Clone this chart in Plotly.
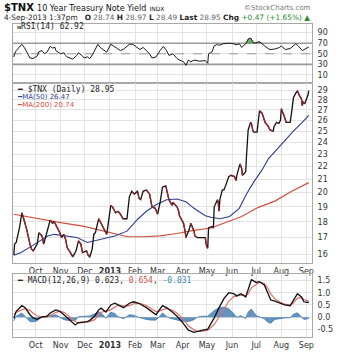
import math
import plotly.graph_objects as go

# ---- $TNX daily closes (yield x10) ----
price_dates = [
    "2012-09-04", "2012-09-05", "2012-09-07", "2012-09-11", "2012-09-14", "2012-09-17",
    "2012-09-20", "2012-09-24", "2012-09-26", "2012-09-28", "2012-10-03", "2012-10-05",
    "2012-10-09", "2012-10-11", "2012-10-16", "2012-10-19", "2012-10-22", "2012-10-24",
    "2012-10-26", "2012-10-31", "2012-11-02", "2012-11-05", "2012-11-07", "2012-11-09",
    "2012-11-13", "2012-11-16", "2012-11-20", "2012-11-23", "2012-11-26", "2012-11-28",
    "2012-12-03", "2012-12-05", "2012-12-07", "2012-12-10", "2012-12-12", "2012-12-14",
    "2012-12-18", "2012-12-21", "2012-12-24", "2012-12-27", "2012-12-28", "2013-01-02",
    "2013-01-04", "2013-01-08", "2013-01-11", "2013-01-14", "2013-01-17", "2013-01-22",
    "2013-01-25", "2013-01-28", "2013-01-31", "2013-02-04", "2013-02-06", "2013-02-08",
    "2013-02-11", "2013-02-15", "2013-02-19", "2013-02-20", "2013-02-22", "2013-02-26",
    "2013-03-01", "2013-03-04", "2013-03-07", "2013-03-11", "2013-03-13", "2013-03-15",
    "2013-03-19", "2013-03-20", "2013-03-25", "2013-03-27", "2013-03-28", "2013-04-02",
    "2013-04-04", "2013-04-05", "2013-04-09", "2013-04-11", "2013-04-15", "2013-04-16",
    "2013-04-19", "2013-04-22", "2013-04-25", "2013-04-29", "2013-04-30", "2013-05-01",
    "2013-05-02", "2013-05-03", "2013-05-07", "2013-05-09", "2013-05-10", "2013-05-14",
    "2013-05-15", "2013-05-16", "2013-05-17", "2013-05-20", "2013-05-22", "2013-05-24",
    "2013-05-28", "2013-05-31", "2013-06-04", "2013-06-06", "2013-06-07", "2013-06-10",
    "2013-06-11", "2013-06-13", "2013-06-14", "2013-06-17", "2013-06-18", "2013-06-19",
    "2013-06-20", "2013-06-21", "2013-06-24", "2013-06-25", "2013-06-27", "2013-06-28",
    "2013-07-02", "2013-07-05", "2013-07-08", "2013-07-10", "2013-07-12", "2013-07-16",
    "2013-07-18", "2013-07-22", "2013-07-23", "2013-07-26", "2013-07-29", "2013-07-31",
    "2013-08-01", "2013-08-05", "2013-08-07", "2013-08-09", "2013-08-12", "2013-08-14",
    "2013-08-16", "2013-08-19", "2013-08-21", "2013-08-23", "2013-08-26", "2013-08-27",
    "2013-08-28", "2013-08-30", "2013-09-03", "2013-09-04",
]
price_vals = [
    15.95, 16.6, 16.7, 17.6, 18.6, 18.1,
    17.5, 16.6, 16.3, 16.2, 16.6, 17.3,
    17.1, 16.6, 17.5, 18.1, 17.9, 18.0,
    17.8, 17.3, 17.0, 17.2, 16.9, 16.4,
    16.1, 15.85, 16.2, 16.8, 16.6, 16.1,
    16.2, 15.95, 15.85, 16.3, 17.2, 17.3,
    18.2, 17.9, 17.6, 17.3, 17.2, 19.1,
    19.0, 18.6, 18.7, 18.5, 18.2, 18.2,
    19.7, 20.1, 19.9, 20.1, 19.6, 19.5,
    20.1, 20.2, 19.9, 19.6, 19.0, 18.9,
    18.5, 19.3, 20.4, 20.5, 20.0, 19.5,
    19.1, 19.3, 19.0, 18.7, 18.4, 17.9,
    17.4, 17.0, 17.5, 17.9, 17.4, 17.1,
    17.0, 17.0, 17.0, 17.0, 16.6, 16.4,
    16.35, 17.6, 17.7, 17.6, 19.0, 19.5,
    19.3, 18.7, 19.5, 20.2, 20.2, 20.5,
    21.2, 21.3, 21.2, 20.9, 21.3, 22.0,
    22.2, 21.8, 21.3, 21.5, 21.6, 22.9,
    24.2, 25.1, 25.8, 25.7, 25.0, 24.9,
    24.9, 26.9, 26.7, 26.3, 25.8, 25.4,
    25.1, 25.0, 25.4, 25.8, 25.7, 26.0,
    27.1, 26.3, 25.8, 25.8, 25.8, 26.9,
    28.2, 28.7, 28.9, 28.5, 28.1, 27.4,
    27.8, 27.6, 28.48, 28.95,
]

# ---- moving averages ----
ma50_dates = [
    "2012-09-04", "2012-09-13", "2012-09-25", "2012-10-08", "2012-10-16", "2012-10-24",
    "2012-11-06", "2012-11-21", "2012-12-04", "2012-12-12", "2012-12-24", "2013-01-07",
    "2013-01-22", "2013-02-04", "2013-02-15", "2013-02-27", "2013-03-12", "2013-03-25",
    "2013-04-05", "2013-04-15", "2013-04-29", "2013-05-06", "2013-05-17", "2013-05-29",
    "2013-06-10", "2013-06-19", "2013-06-28", "2013-07-08", "2013-07-16", "2013-07-24",
    "2013-08-01", "2013-08-09", "2013-08-16", "2013-08-27", "2013-09-04",
]
ma50_vals = [
    15.95, 16.1, 16.45, 16.85, 17.1, 17.2,
    17.1, 17.0, 16.7, 16.8, 16.95, 17.1,
    17.4, 18.15, 18.7, 19.15, 19.5, 19.55,
    19.35, 18.9, 18.4, 18.3, 18.2, 18.35,
    18.9, 19.9, 20.8, 21.7, 22.6, 23.2,
    23.8, 24.4, 25.0, 25.8, 26.47,
]
ma200_dates = [
    "2012-09-04", "2012-09-28", "2012-11-01", "2012-11-30", "2012-12-20", "2013-01-07",
    "2013-01-23", "2013-02-12", "2013-03-04", "2013-03-25", "2013-04-15", "2013-05-06",
    "2013-05-24", "2013-06-13", "2013-07-03", "2013-07-24", "2013-08-14", "2013-09-04",
]
ma200_vals = [
    18.5, 18.25, 17.95, 17.7, 17.45, 17.2,
    17.05, 17.05, 17.1, 17.25, 17.45, 17.6,
    17.95, 18.35, 18.95, 19.4, 20.1, 20.74,
]

# ---- RSI(14) ----
rsi_dates = [
    "2012-09-04", "2012-09-05", "2012-09-07", "2012-09-14", "2012-09-17", "2012-09-20",
    "2012-09-24", "2012-09-28", "2012-10-03", "2012-10-05", "2012-10-09", "2012-10-12",
    "2012-10-15", "2012-10-19", "2012-10-22", "2012-10-25", "2012-10-26", "2012-11-01",
    "2012-11-05", "2012-11-07", "2012-11-09", "2012-11-14", "2012-11-16", "2012-11-21",
    "2012-11-23", "2012-11-27", "2012-11-30", "2012-12-04", "2012-12-07", "2012-12-11",
    "2012-12-14", "2012-12-17", "2012-12-20", "2012-12-24", "2012-12-28", "2013-01-02",
    "2013-01-07", "2013-01-10", "2013-01-14", "2013-01-18", "2013-01-25", "2013-01-29",
    "2013-02-01", "2013-02-04", "2013-02-07", "2013-02-11", "2013-02-15", "2013-02-19",
    "2013-02-22", "2013-02-27", "2013-03-04", "2013-03-08", "2013-03-12", "2013-03-15",
    "2013-03-20", "2013-03-25", "2013-03-28", "2013-04-02", "2013-04-05", "2013-04-08",
    "2013-04-11", "2013-04-15", "2013-04-22", "2013-04-29", "2013-05-02", "2013-05-03",
    "2013-05-07", "2013-05-10", "2013-05-14", "2013-05-16", "2013-05-21", "2013-05-28",
    "2013-06-03", "2013-06-06", "2013-06-10", "2013-06-13", "2013-06-18", "2013-06-21",
    "2013-06-24", "2013-06-28", "2013-07-05", "2013-07-09", "2013-07-12", "2013-07-18",
    "2013-07-24", "2013-07-30", "2013-08-01", "2013-08-06", "2013-08-12", "2013-08-19",
    "2013-08-22", "2013-08-27", "2013-08-30", "2013-09-04",
]
rsi_vals = [
    44, 50, 56, 68, 62, 53,
    42, 41, 46, 54, 56, 50,
    53, 64, 61, 62, 56, 50,
    52, 47, 44, 41, 40, 47,
    52, 47, 42, 44, 41, 50,
    59, 68, 62, 58, 53, 68,
    62, 60, 56, 59, 68, 68,
    65, 62, 58, 62, 56, 50,
    42, 44, 56, 64, 56, 47,
    50, 41, 38, 35, 28, 38,
    35, 38, 36, 37, 32, 50,
    53, 65, 68, 66, 69, 70,
    69, 67, 69, 62, 69, 78,
    80, 70, 73, 67, 64, 58,
    59, 62, 65, 58, 60, 69,
    65, 56, 59, 62.92,
]

# ---- MACD(12,26,9) ----
macd_dates = [
    "2012-09-04", "2012-09-07", "2012-09-14", "2012-09-18", "2012-09-24", "2012-09-28",
    "2012-10-03", "2012-10-08", "2012-10-15", "2012-10-19", "2012-10-26", "2012-10-31",
    "2012-11-05", "2012-11-09", "2012-11-14", "2012-11-19", "2012-11-23", "2012-11-28",
    "2012-12-04", "2012-12-07", "2012-12-13", "2012-12-18", "2012-12-21", "2012-12-27",
    "2013-01-02", "2013-01-07", "2013-01-11", "2013-01-18", "2013-01-25", "2013-01-30",
    "2013-02-05", "2013-02-08", "2013-02-15", "2013-02-21", "2013-02-27", "2013-03-07",
    "2013-03-12", "2013-03-18", "2013-03-25", "2013-04-01", "2013-04-08", "2013-04-15",
    "2013-04-19", "2013-04-26", "2013-05-02", "2013-05-10", "2013-05-16", "2013-05-22",
    "2013-05-28", "2013-06-03", "2013-06-07", "2013-06-12", "2013-06-18", "2013-06-21",
    "2013-06-25", "2013-07-01", "2013-07-05", "2013-07-11", "2013-07-15", "2013-07-19",
    "2013-07-24", "2013-07-30", "2013-08-05", "2013-08-12", "2013-08-16", "2013-08-21",
    "2013-08-26", "2013-08-29", "2013-09-03", "2013-09-04",
]
macd_vals = [
    -0.03, 0.24, 0.47, 0.39, 0.10, -0.03,
    -0.09, 0.00, 0.04, 0.17, 0.30, 0.24,
    0.10, -0.03, -0.18, -0.32, -0.22, -0.20,
    -0.18, -0.13, 0.04, 0.30, 0.37, 0.21,
    0.50, 0.57, 0.50, 0.39, 0.57, 0.63,
    0.57, 0.53, 0.39, 0.24, 0.10, 0.47,
    0.39, 0.24, 0.04, -0.22, -0.53, -0.62,
    -0.58, -0.53, -0.49, -0.03, 0.39, 0.76,
    1.00, 0.96, 0.87, 0.96, 0.83, 1.16,
    1.53, 1.42, 1.45, 1.32, 1.00, 0.70,
    0.66, 0.57, 0.50, 0.47, 0.70, 0.96,
    0.83, 0.63, 0.60, 0.623,
]
signal_vals = [
    0.12, 0.20, 0.30, 0.35, 0.28, 0.16,
    0.06, 0.00, 0.00, 0.08, 0.20, 0.24,
    0.20, 0.10, -0.05, -0.18, -0.24, -0.22,
    -0.20, -0.18, -0.10, 0.08, 0.20, 0.25,
    0.30, 0.42, 0.48, 0.45, 0.47, 0.55,
    0.57, 0.56, 0.48, 0.36, 0.22, 0.30,
    0.36, 0.30, 0.16, -0.05, -0.35, -0.52,
    -0.58, -0.57, -0.53, -0.30, 0.00, 0.35,
    0.65, 0.84, 0.87, 0.90, 0.88, 0.95,
    1.20, 1.36, 1.43, 1.38, 1.20, 0.95,
    0.75, 0.62, 0.53, 0.49, 0.58, 0.78,
    0.80, 0.72, 0.66, 0.654,
]

month_ticks = ["2012-10-01", "2012-11-01", "2012-12-01", "2013-01-01", "2013-02-01",
               "2013-03-01", "2013-04-01", "2013-05-01", "2013-06-01", "2013-07-01",
               "2013-08-01", "2013-09-01"]
month_labels = ["Oct", "Nov", "Dec", "<b>2013</b>", "Feb", "Mar", "Apr", "May",
                "Jun", "Jul", "Aug", "Sep"]
price_ticks = [16, 17, 18, 19, 20, 21, 22, 23, 24, 25, 26, 27, 28, 29]
rsi_ticks = [10, 30, 50, 70, 90]
macd_ticks = [-0.5, 0.0, 0.5, 1.0, 1.5]
macd_tick_text = ["-0.5", "0.0", "0.5", "1.0", "1.5"]

X_RANGE = ["2012-09-03", "2013-09-08"]
GRID = "#e3e3e3"
FRAME = "#a8a8a8"
TICK_FONT = dict(family="DejaVu Sans", size=8, color="#333333")
UP_COLOR = "#111111"
DOWN_COLOR = "#a3262e"
MA50_COLOR = "#2e3d8f"
MA200_COLOR = "#d0503c"

fig = go.Figure()

# RSI panel: gray reference lines at 70/30, dashed 50, green fill above 70
for level, dash, width in [(70, "solid", 1.6), (30, "solid", 1.6), (50, "dash", 1)]:
    fig.add_trace(go.Scatter(x=X_RANGE, y=[level, level], mode="lines",
                             line=dict(color="#9a9a9a", width=width, dash=dash),
                             xaxis="x", yaxis="y", hoverinfo="skip"))
fig.add_trace(go.Scatter(x=rsi_dates, y=[70] * len(rsi_dates), mode="lines",
                         line=dict(width=0), xaxis="x", yaxis="y", hoverinfo="skip"))
fig.add_trace(go.Scatter(x=rsi_dates, y=[max(v, 70) for v in rsi_vals], mode="lines",
                         line=dict(width=0), fill="tonexty", fillcolor="rgba(60,150,60,0.75)",
                         xaxis="x", yaxis="y", hoverinfo="skip"))
fig.add_trace(go.Scatter(x=rsi_dates, y=rsi_vals, mode="lines",
                         line=dict(color="#1a1a1a", width=1), xaxis="x", yaxis="y"))

# Price panel
fig.add_trace(go.Scatter(x=ma200_dates, y=ma200_vals, mode="lines",
                         line=dict(color=MA200_COLOR, width=1.2), xaxis="x2", yaxis="y2"))
fig.add_trace(go.Scatter(x=ma50_dates, y=ma50_vals, mode="lines",
                         line=dict(color=MA50_COLOR, width=1.1), xaxis="x2", yaxis="y2"))
fig.add_trace(go.Scatter(x=price_dates, y=price_vals, mode="lines",
                         line=dict(color=UP_COLOR, width=1.3), xaxis="x2", yaxis="y2"))
down_x, down_y = [], []
for i in range(1, len(price_vals)):
    if price_vals[i] < price_vals[i - 1]:
        down_x += [price_dates[i - 1], price_dates[i], None]
        down_y += [price_vals[i - 1], price_vals[i], None]
fig.add_trace(go.Scatter(x=down_x, y=down_y, mode="lines", connectgaps=False,
                         line=dict(color=DOWN_COLOR, width=1.3), xaxis="x2", yaxis="y2"))

# MACD panel
hist_vals = [m - s for m, s in zip(macd_vals, signal_vals)]
fig.add_trace(go.Scatter(x=macd_dates, y=hist_vals, mode="lines", fill="tozeroy",
                         line=dict(color="#3f78b0", width=0.8),
                         fillcolor="rgba(63,120,176,0.8)", xaxis="x3", yaxis="y3"))
fig.add_trace(go.Scatter(x=macd_dates, y=signal_vals, mode="lines",
                         line=dict(color="#e0706a", width=1.2), xaxis="x3", yaxis="y3"))
fig.add_trace(go.Scatter(x=macd_dates, y=macd_vals, mode="lines",
                         line=dict(color="#111111", width=1.3), xaxis="x3", yaxis="y3"))

# Layout geometry (pixels): plot area 12..315 horizontally, 24..350 vertically
W, H = 345, 362
L, R, T, B = 12, 30, 24, 12
PH = H - T - B
PW = W - L - R


def py(y_px):
    return (H - B - y_px) / PH


def px(x_px):
    return (x_px - L) / PW


def xaxis_cfg(anchor, show_labels):
    return dict(type="date", range=X_RANGE, anchor=anchor, domain=[0, 1],
                tickmode="array", tickvals=month_ticks, ticktext=month_labels,
                showticklabels=show_labels, ticks="", tickfont=TICK_FONT,
                showgrid=True, gridcolor=GRID, gridwidth=1,
                showline=True, linecolor=FRAME, linewidth=1, mirror=True,
                zeroline=False)


def yaxis_cfg(anchor, dom, **kw):
    cfg = dict(anchor=anchor, domain=dom, side="right", ticks="", tickfont=TICK_FONT,
               showgrid=True, gridcolor=GRID, gridwidth=1,
               showline=True, linecolor=FRAME, linewidth=1, mirror=True,
               zeroline=False, ticklabelstandoff=3)
    cfg.update(kw)
    return cfg


fig.update_layout(
    width=W, height=H,
    margin=dict(l=L, r=R, t=T, b=B),
    paper_bgcolor="white", plot_bgcolor="white",
    showlegend=False,
    xaxis=xaxis_cfg("y", False),
    xaxis2=xaxis_cfg("y2", True),
    xaxis3=xaxis_cfg("y3", True),
    yaxis=yaxis_cfg("x", [py(85), 1.0], range=[-4.5, 106.4],
                    tickmode="array", tickvals=rsi_ticks),
    yaxis2=yaxis_cfg("x2", [py(273), py(85)], type="log",
                     range=[math.log10(15.5), math.log10(29.8)],
                     tickmode="array", tickvals=price_ticks,
                     ticktext=[str(v) for v in price_ticks]),
    yaxis3=yaxis_cfg("x3", [0.0, py(284)], range=[-0.81, 1.78],
                     tickmode="array", tickvals=macd_ticks, ticktext=macd_tick_text),
)

annotations = [
    dict(x=px(1), y=py(7),
         text="<b>$TNX</b> <span style='font-size:8px'>10 Year Treasury Note Yield</span>"
              " <span style='font-size:6px'>INDX</span>",
         font=dict(family="DejaVu Sans", size=10, color="#111")),
    dict(x=px(316), y=py(7), xanchor="right",
         text="©StockCharts.com", font=dict(family="DejaVu Sans", size=7, color="#777")),
    dict(x=px(1), y=py(17),
         text="4-Sep-2013 1:37pm &nbsp; <b>O</b> <span style='color:#666'>28.74</span>"
              " <b>H</b> <span style='color:#666'>28.97</span>"
              " <b>L</b> <span style='color:#666'>28.49</span>"
              " <b>Last</b> <span style='color:#666'>28.95</span>"
              " <b>Chg</b> <span style='color:#2a8a2a'>+0.47 (+1.65%)</span>"
              " <span style='color:#2a8a2a'>▲</span>",
         font=dict(family="DejaVu Sans", size=7.4, color="#222")),
    dict(x=px(14), y=py(27),
         text="<b style='font-size:6px'>ᴍ</b>RSI(14) 62.92",
         font=dict(family="DejaVu Sans Mono", size=8, color="#222")),
    dict(x=px(14), y=py(92),
         text="<b>━</b> $TNX (Daily) 28.95",
         font=dict(family="DejaVu Sans Mono", size=8, color="#222")),
    dict(x=px(14), y=py(100),
         text="<b>━</b>MA(50) 26.47",
         font=dict(family="DejaVu Sans", size=7, color=MA50_COLOR)),
    dict(x=px(14), y=py(108),
         text="<b>━</b>MA(200) 20.74",
         font=dict(family="DejaVu Sans", size=7, color=MA200_COLOR)),
    dict(x=px(14), y=py(291),
         text="<b>━</b> MACD(12,26,9) 0.623, <span style='color:#d0504a'>0.654</span>,"
              " <span style='color:#3a8fb0'>-0.031</span>",
         font=dict(family="DejaVu Sans Mono", size=8, color="#222")),
]
for a in annotations:
    a.setdefault("xanchor", "left")
    a.update(xref="paper", yref="paper", yanchor="middle", showarrow=False)
fig.update_layout(annotations=annotations)

fig.write_html("out.html")
